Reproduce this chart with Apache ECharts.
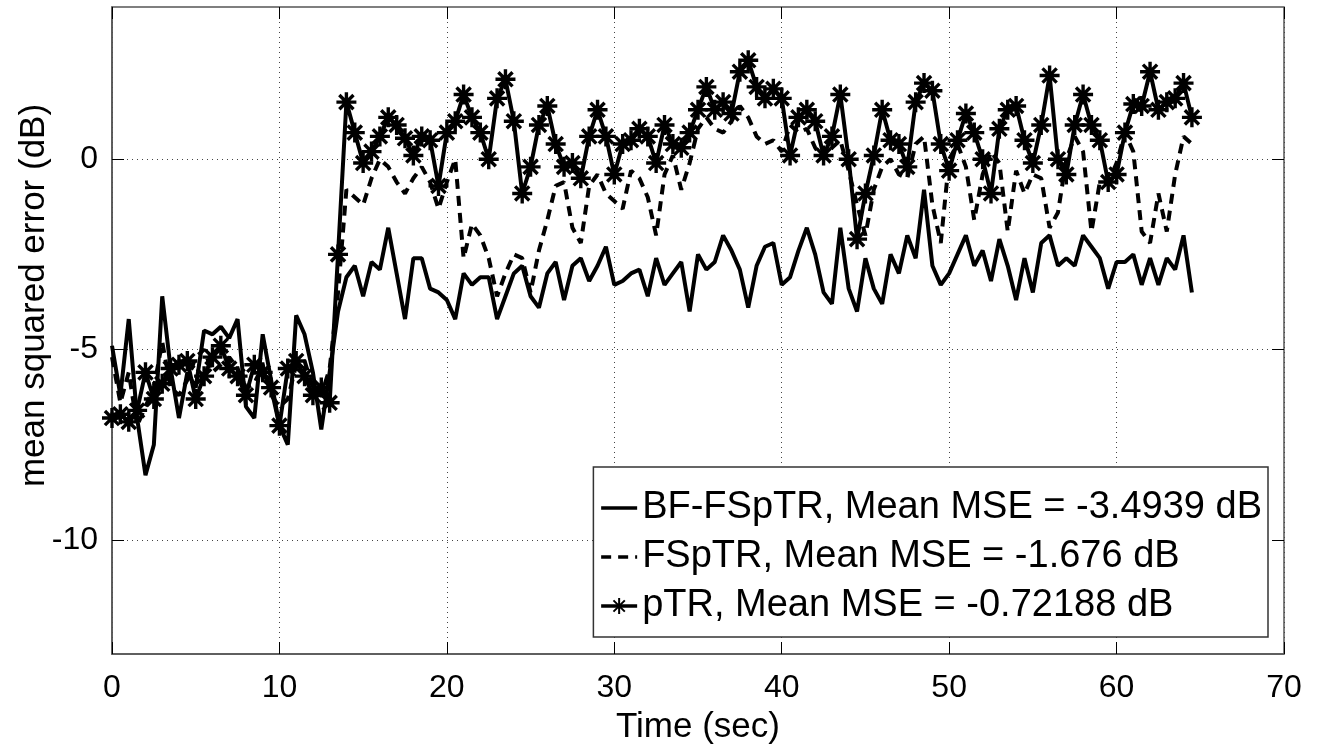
<!DOCTYPE html>
<html>
<head>
<meta charset="utf-8">
<title>mean squared error</title>
<script src="https://cdn.jsdelivr.net/npm/echarts@6/dist/echarts.min.js"></script>
<style>
  html, body { margin: 0; padding: 0; background: #fff; }
  #chart { width: 1317px; height: 753px; }
</style>
</head>
<body>
<div id="chart"></div>
<script>
// sampling step of the curves (sec)
var timeStep = 0.5;

var seriesNames = [
  "BF-FSpTR, Mean MSE = -3.4939 dB",
  "FSpTR, Mean MSE = -1.676 dB",
  "pTR, Mean MSE = -0.72188 dB",
];

// BF-FSpTR (solid)
var bfFsptr = [
  -4.9, -6.2, -4.2, -6.8, -8.3, -7.5, -3.6, -5.5, -6.8, -5.6,
  -6.0, -4.5, -4.6, -4.4, -4.7, -4.2, -6.5, -6.8, -4.6, -5.8,
  -7.0, -7.5, -4.1, -4.6, -5.6, -7.1, -5.6, -4.0, -3.1, -2.8,
  -3.6, -2.7, -2.9, -1.8, -3.0, -4.2, -2.6, -2.6, -3.4, -3.5,
  -3.7, -4.2, -3.0, -3.3, -3.1, -3.1, -4.2, -3.6, -3.0, -2.8,
  -3.6, -3.9, -3.0, -2.7, -3.7, -2.8, -2.6, -3.2, -2.8, -2.3,
  -3.3, -3.2, -3.0, -2.9, -3.6, -2.6, -3.3, -3.0, -2.7, -4.0,
  -2.5, -2.9, -2.7, -2.0, -2.4, -2.9, -3.9, -2.8, -2.3, -2.2,
  -3.3, -3.1, -2.4, -1.8, -2.5, -3.5, -3.8, -1.8, -3.4, -4.0,
  -2.6, -3.4, -3.8, -2.5, -3.0, -2.0, -2.6, -0.8, -2.8, -3.3,
  -3.0, -2.5, -2.0, -2.8, -2.4, -3.2, -2.1, -2.8, -3.7, -2.6,
  -3.5, -2.2, -2.0, -2.8, -2.6, -2.8, -2.0, -2.3, -2.6, -3.4,
  -2.7, -2.7, -2.5, -3.3, -2.6, -3.3, -2.6, -2.9, -2.0, -3.5,
];

// FSpTR (dashed)
var fsptr = [
  -5.2, -6.4, -5.6, -7.0, -6.5, -6.0, -4.8, -6.0, -6.2, -5.8,
  -5.2, -5.0, -5.6, -5.4, -5.2, -5.5, -6.0, -5.9, -5.4, -6.2,
  -6.5, -6.3, -5.4, -5.3, -6.0, -6.2, -5.5, -3.5, -0.8, -1.0,
  -1.2, -0.5, 0.0, -0.2, -0.6, -0.9, -0.5, -0.2, -0.6, -1.3,
  -0.6, 0.0, -2.6, -1.7, -2.0, -2.6, -3.6, -3.0, -2.5, -2.6,
  -3.5, -2.4, -1.6, -0.7, -0.6, -1.8, -2.2, -0.7, -0.4, -0.9,
  -1.1, -1.3, -0.3, -0.5, -1.0, -2.0, -0.4, 0.1, -0.8, -0.1,
  0.8, 1.1, 0.8, 0.7, 1.0, 1.4, 1.1, 0.6, 0.4, 0.5,
  0.2, 0.9, 0.7, 0.8, 0.3, 0.0, 0.3, 0.5, -0.3, -1.2,
  -2.0, -0.8, -0.2, 0.0, -0.4, -0.5, 0.4, 0.6, -1.2, -2.2,
  0.0, 0.4, -0.2, -1.6, -0.4, 0.2, -0.1, -1.9, -0.3, -0.9,
  -0.4, -0.5, -1.8, -1.4, 0.0, 0.6, 0.2, -1.9, -0.6, -0.6,
  -0.1, 0.7, 0.2, -1.9, -2.2, -0.9, -1.9, -0.4, 0.6, 0.4,
];

// pTR (solid with stars)
var ptr = [
  -6.8, -6.7, -6.9, -6.6, -5.6, -6.3, -5.9, -5.5, -5.4, -5.3,
  -6.3, -5.7, -5.2, -4.9, -5.5, -5.7, -6.2, -5.4, -5.6, -6.0,
  -7.0, -5.5, -5.3, -5.7, -6.2, -6.0, -6.4, -2.5, 1.5, 0.7,
  -0.1, 0.2, 0.6, 1.1, 0.9, 0.55, 0.1, 0.6, 0.5, -0.7,
  0.7, 1.0, 1.7, 1.1, 0.7, 0.0, 1.6, 2.1, 1.0, -0.9,
  -0.2, 0.9, 1.4, 0.4, -0.2, -0.1, -0.5, 0.6, 1.3, 0.6,
  -0.4, 0.4, 0.5, 0.8, 0.6, -0.1, 0.9, 0.4, 0.3, 0.7,
  1.3, 1.9, 1.3, 1.5, 1.2, 2.3, 2.6, 1.9, 1.6, 1.85,
  1.6, 0.1, 1.1, 1.3, 1.0, 0.1, 0.6, 1.7, 0.0, -2.1,
  -0.9, 0.1, 1.3, 0.5, 0.4, -0.2, 1.5, 2.0, 1.8, 0.4,
  -0.3, 0.5, 1.2, 0.7, 0.0, -0.9, 0.8, 1.3, 1.4, 0.5,
  -0.1, 0.9, 2.2, 0.0, -0.4, 0.9, 1.7, 0.9, 0.5, -0.6,
  -0.4, 0.7, 1.45, 1.4, 2.3, 1.3, 1.5, 1.6, 2.0, 1.1,
];

var yTicks = [-10, -5, 0];

function pairs(values) {
  return values.map(function (v, i) {
    return [i * timeStep, v];
  });
}

var font = "Liberation Sans, Arial, Helvetica, sans-serif";
var star = "path://M12,0L12,24M0,12L24,12M3.5,3.5L20.5,20.5M3.5,20.5L20.5,3.5";

var chart = echarts.init(document.getElementById("chart"));
chart.setOption({
  animation: false,
  backgroundColor: "#fff",
  textStyle: { fontFamily: font },
  grid: {
    left: 112,
    right: 33,
    top: 7,
    bottom: 99,
    outerBoundsMode: "none",
    show: true,
    borderColor: "#555",
    borderWidth: 1.5,
  },
  legend: {
    data: seriesNames,
    orient: "vertical",
    right: 49,
    top: 467,
    itemWidth: 36,
    itemHeight: 20,
    itemGap: 11,
    padding: [22, 6, 12, 6],
    backgroundColor: "#fff",
    borderColor: "#333",
    borderWidth: 1.5,
    borderRadius: 0,
    lineStyle: { width: 3.5 },
    textStyle: { fontSize: 38, color: "#000", fontFamily: font },
  },
  xAxis: [
    {
      type: "value",
      min: 0,
      max: 70,
      interval: 10,
      name: "Time (sec)",
      nameLocation: "middle",
      nameGap: 56,
      nameTextStyle: { fontSize: 35, color: "#000", fontFamily: font },
      axisLine: { show: true, onZero: false, lineStyle: { color: "#555", width: 1.5 } },
      axisTick: { inside: true, length: 12, lineStyle: { color: "#000" } },
      axisLabel: { fontSize: 32, color: "#000", margin: 18, fontFamily: font },
      splitLine: { show: true, lineStyle: { type: [1, 4], color: "#444", width: 1 } },
    },
    {
      type: "value",
      position: "top",
      min: 0,
      max: 70,
      interval: 10,
      axisLine: { show: false, onZero: false },
      axisTick: { inside: true, length: 12, lineStyle: { color: "#000" } },
      axisLabel: { show: false },
      splitLine: { show: false },
    },
  ],
  yAxis: [
    {
      type: "value",
      min: -13,
      max: 4,
      name: "mean squared error (dB)",
      nameLocation: "middle",
      nameRotate: 90,
      nameGap: 60,
      nameMoveOverlap: false,
      // left padding lifts the rotated title a little above the axis centre
      nameTextStyle: { fontSize: 35, color: "#000", fontFamily: font, padding: [0, 0, 0, 70] },
      axisLine: { show: true, onZero: false, lineStyle: { color: "#555", width: 1.5 } },
      axisTick: { inside: true, length: 12, customValues: yTicks, lineStyle: { color: "#000" } },
      axisLabel: { fontSize: 32, color: "#000", margin: 14, customValues: yTicks, fontFamily: font },
      splitLine: { show: true, lineStyle: { type: [1, 4], color: "#444", width: 1 } },
    },
    {
      type: "value",
      position: "right",
      min: -13,
      max: 4,
      axisLine: { show: false, onZero: false },
      axisTick: { inside: true, length: 12, customValues: yTicks, lineStyle: { color: "#000" } },
      axisLabel: { show: false, customValues: yTicks },
      splitLine: { show: false },
    },
  ],
  series: [
    {
      name: seriesNames[0],
      type: "line",
      data: pairs(bfFsptr),
      symbol: "circle",
      showSymbol: false,
      lineStyle: { color: "#000", width: 4 },
      // transparent marker so the legend icon is a plain line
      itemStyle: { color: "transparent", borderWidth: 0 },
    },
    {
      name: seriesNames[1],
      type: "line",
      data: pairs(fsptr),
      symbol: "circle",
      showSymbol: false,
      lineStyle: { color: "#000", width: 4, type: [10, 7] },
      itemStyle: { color: "transparent", borderWidth: 0 },
    },
    {
      name: seriesNames[2],
      type: "line",
      data: pairs(ptr),
      symbol: star,
      symbolSize: 20,
      showAllSymbol: true,
      lineStyle: { color: "#000", width: 4 },
      itemStyle: { color: "#000", borderColor: "#000", borderWidth: 3.4 },
    },
  ],
});
</script>
</body>
</html>
